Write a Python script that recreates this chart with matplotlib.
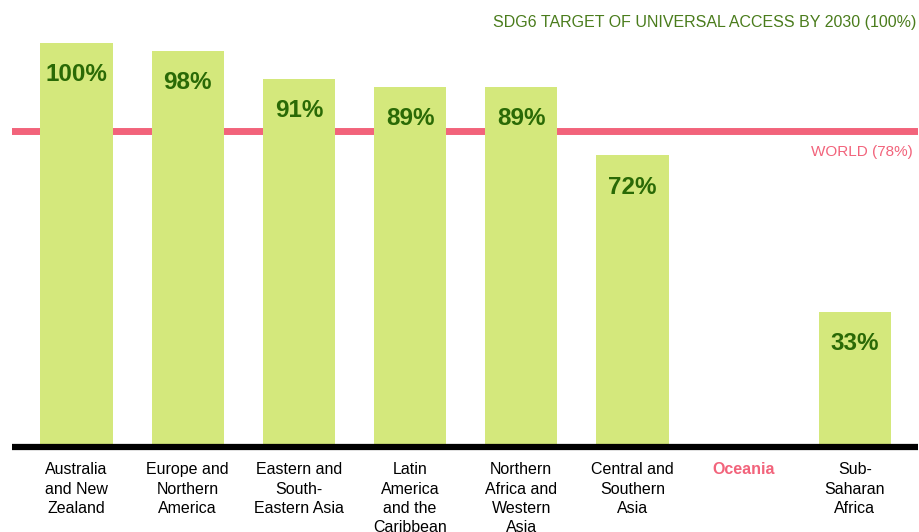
import matplotlib.pyplot as plt

plt.rcParams['font.family'] = ['Liberation Sans', 'DejaVu Sans']

regions = ['Australia\nand New\nZealand', 'Europe and\nNorthern\nAmerica',
           'Eastern and\nSouth-\nEastern Asia', 'Latin\nAmerica\nand the\nCaribbean',
           'Northern\nAfrica and\nWestern\nAsia', 'Central and\nSouthern\nAsia',
           'Oceania', 'Sub-\nSaharan\nAfrica']
values = [100, 98, 91, 89, 89, 72, None, 33]
world = 78

bar_color = '#d4e87c'
green = '#2a6a06'
pink = '#f2637b'

fig = plt.figure(figsize=(9.2, 5.32), dpi=100)
ax = fig.add_axes([0.013, 0.1654, 0.985, 0.8346])

# spine first: set_position resets the ticks
for s in ['top', 'left', 'right']:
    ax.spines[s].set_visible(False)
ax.spines['bottom'].set_position(('outward', 2.2))
ax.spines['bottom'].set_linewidth(4.5)
ax.spines['bottom'].set_capstyle('butt')
ax.spines['bottom'].set_zorder(5)

x = list(range(len(regions)))
for i, v in zip(x, values):
    if v is None:
        continue
    ax.bar(i, v, width=0.65, color=bar_color, zorder=3)
    ax.annotate(f'{v}%', (i, v), xytext=(0, -23), textcoords='offset points',
                ha='center', va='center', fontsize=17.5, fontweight='bold',
                color=green, zorder=4)

ax.axhline(world, color=pink, linewidth=5, zorder=2)
ax.annotate(f'WORLD ({world}%)', (7.52, world), xytext=(0, -15),
            textcoords='offset points', ha='right', va='center',
            fontsize=11, color=pink)

ax.text(0.998, 0.95, 'SDG6 TARGET OF UNIVERSAL ACCESS BY 2030 (100%)',
        transform=ax.transAxes, ha='right', va='center', fontsize=11.5, color='#4a7c1c')

ax.set_xlim(-0.58, 7.57)
ax.set_ylim(0, 110.7)
ax.set_xticks(x)
ax.set_xticklabels(regions, fontsize=11.5, linespacing=1.35, va='top')
for lbl in ax.get_xticklabels():
    if lbl.get_text() == 'Oceania':
        lbl.set_color(pink)
        lbl.set_fontweight('bold')
ax.tick_params(axis='x', length=0, pad=11)
ax.set_yticks([])

fig.savefig('out.png', dpi=100)
